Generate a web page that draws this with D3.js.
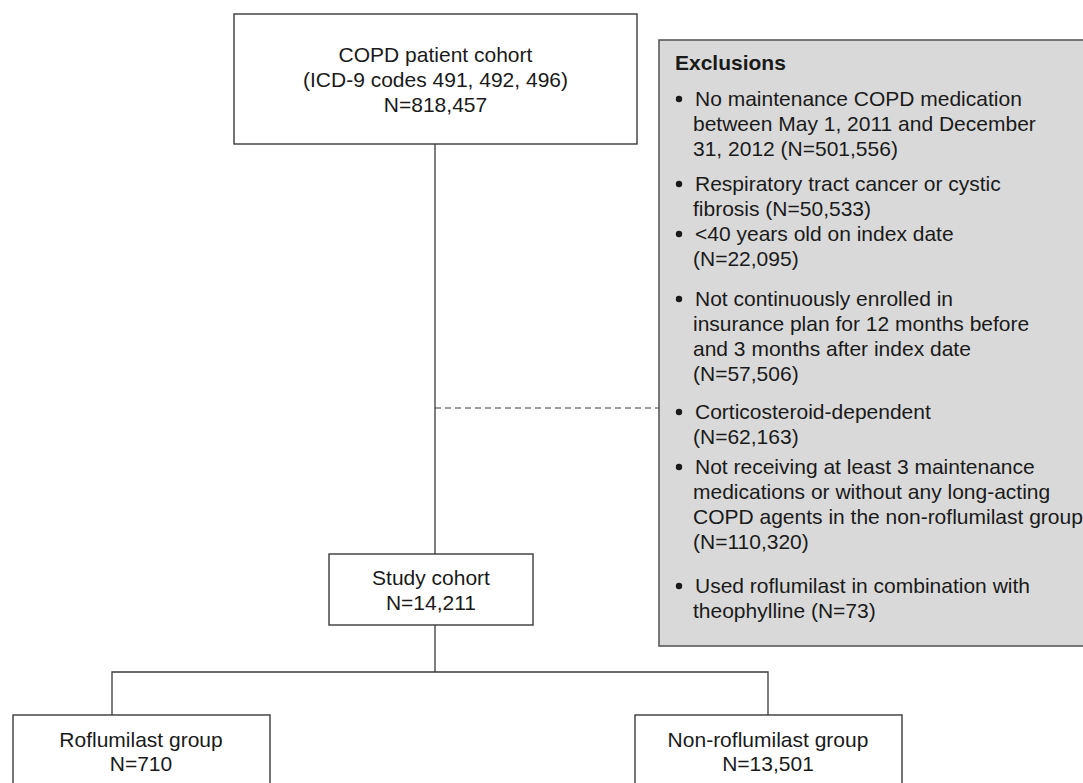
<!DOCTYPE html>
<html>
<head>
  <meta charset="utf-8">
  <title>COPD cohort flow</title>
  <script src="https://cdn.jsdelivr.net/npm/d3@7/dist/d3.min.js"></script>
  <style>
    html, body { margin: 0; padding: 0; background: #fff; overflow: hidden; }
    svg { display: block; font-family: "Liberation Sans", Arial, sans-serif; }
  </style>
</head>
<body>
<div id="chart"></div>
<script>

  // ---- data ----
  var cohortLines = ["COPD patient cohort", "(ICD-9 codes 491, 492, 496)", "N=818,457"];
  var studyLines = ["Study cohort", "N=14,211"];
  var groupNames = ["Roflumilast group", "Non-roflumilast group"];
  var groupCounts = ["N=710", "N=13,501"];
  var exclusionTitle = "Exclusions";
  var exclusionItems = [
    ["No maintenance COPD medication", "between May 1, 2011 and December", "31, 2012 (N=501,556)"],
    ["Respiratory tract cancer or cystic", "fibrosis (N=50,533)"],
    ["<40 years old on index date", "(N=22,095)"],
    ["Not continuously enrolled in", "insurance plan for 12 months before", "and 3 months after index date", "(N=57,506)"],
    ["Corticosteroid-dependent", "(N=62,163)"],
    ["Not receiving at least 3 maintenance", "medications or without any long-acting", "COPD agents in the non-roflumilast group", "(N=110,320)"],
    ["Used roflumilast in combination with", "theophylline (N=73)"]
  ];

  // ---- layout ----
  var width = 1083, height = 783;
  var fs = 21, lh = 25, base = 7.5;
  var ink = "#1a1a1a", line = "#3a3a3a";

  var cohortBox = {x: 234, y: 14, w: 403, h: 130};
  var studyBox = {x: 329, y: 554, w: 204, h: 71};
  var groupBoxes = [{x: 13, y: 715, w: 257, h: 90, tx: 141, bx: 112},
                    {x: 635, y: 715, w: 267, h: 90, tx: 768, bx: 768}];
  var excl = {x: 659, y: 40, w: 460, h: 606};
  var itemY = [98, 183, 233, 298, 411, 466, 585];  // first-line centres
  var spineX = 435, dashY = 408, branchY = 672;

  var svg = d3.select('#chart').append('svg')
              .attr('width', width)
              .attr('height', height);

  // connectors
  svg.append('line')
     .attr('x1', spineX).attr('y1', cohortBox.y + cohortBox.h)
     .attr('x2', spineX).attr('y2', studyBox.y)
     .style('stroke', line).style('stroke-width', 1.3);

  svg.append('line')
     .attr('x1', spineX).attr('y1', dashY)
     .attr('x2', excl.x).attr('y2', dashY)
     .style('stroke', line).style('stroke-width', 1)
     .style('stroke-dasharray', '6,4');

  svg.append('line')
     .attr('x1', spineX).attr('y1', studyBox.y + studyBox.h)
     .attr('x2', spineX).attr('y2', branchY)
     .style('stroke', line).style('stroke-width', 1.3);

  svg.append('path')
     .attr('d', 'M' + groupBoxes[0].bx + ',' + groupBoxes[0].y + 'V' + branchY +
                'H' + groupBoxes[1].bx + 'V' + groupBoxes[1].y)
     .style('fill', 'none').style('stroke', line).style('stroke-width', 1.3);

  function box(b, lines, centres) {
    svg.append('rect')
       .attr('x', b.x).attr('y', b.y).attr('width', b.w).attr('height', b.h)
       .style('fill', '#fff').style('stroke', line).style('stroke-width', 1.4);
    svg.append('g').selectAll('text')
       .data(lines)
       .join('text')
       .attr('x', b.tx != null ? b.tx : b.x + b.w / 2)
       .attr('y', function(d, i){ return centres[i] + base; })
       .attr('text-anchor', 'middle')
       .style('font-size', fs + 'px')
       .style('fill', ink)
       .text(function(d){ return d; });
  }

  box(cohortBox, cohortLines, [54, 79, 104]);
  box(studyBox, studyLines, [577, 602]);
  groupBoxes.forEach(function(g, i){
    box(g, [groupNames[i], groupCounts[i]], [739, 763]);
  });

  // exclusions panel
  svg.append('rect')
     .attr('x', excl.x).attr('y', excl.y).attr('width', excl.w).attr('height', excl.h)
     .style('fill', '#d9d9d9').style('stroke', '#5a5a5a').style('stroke-width', 1.6);

  svg.append('text')
     .attr('x', 675).attr('y', 62 + base)
     .style('font-size', fs + 'px').style('font-weight', 'bold')
     .style('fill', ink)
     .text(exclusionTitle);

  var items = svg.append('g').selectAll('g')
     .data(exclusionItems)
     .join('g');

  items.append('circle')
     .attr('cx', 679)
     .attr('cy', function(d, i){ return itemY[i] + 1; })
     .attr('r', 3.2)
     .style('fill', ink);

  items.selectAll('text')
     .data(function(d, i){ return d.map(function(t, j){ return {t: t, y: itemY[i] + j * lh, j: j}; }); })
     .join('text')
     .attr('x', function(d){ return d.j === 0 ? 695 : 693; })
     .attr('y', function(d){ return d.y + base; })
     .style('font-size', fs + 'px')
     .style('fill', ink)
     .text(function(d){ return d.t; });

</script>
</body>
</html>
